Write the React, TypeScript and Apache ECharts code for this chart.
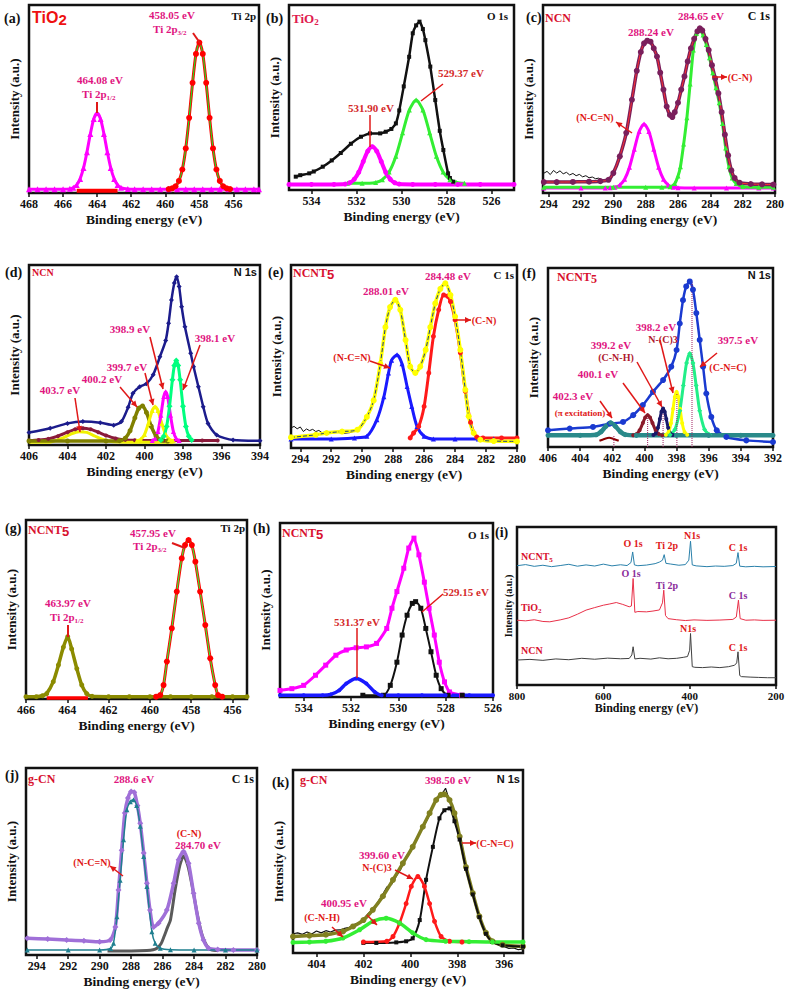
import React, { useEffect, useRef } from 'react';
import * as echarts from 'echarts';

// ---------- (a) Ti 2p, TiO2 ----------
const aTicks = [468, 466, 464, 462, 460, 458, 456];
const aMagX = [468, 467.5, 467, 466.5, 466, 465.6, 465.4, 465.2, 465.0, 464.8, 464.6, 464.4, 464.2, 464.0, 463.8, 463.6, 463.4, 463.2, 463.0, 462.8, 462.6, 462.2, 461.8, 461.3, 460.8, 460.3, 459.8, 459.3, 458.8, 458.3, 457.8, 457.3, 456.8, 456.3, 455.8, 455.3, 454.8, 454.5];
const aMagY = [2, 2, 2, 2, 2, 2.2, 2.8, 4.3, 7.5, 13.3, 21.7, 31.4, 39.4, 42.5, 39.4, 31.4, 21.7, 13.3, 7.5, 4.3, 2.8, 2.1, 2, 2, 2, 2, 2, 2, 2, 2, 2, 2, 2, 2, 2, 2, 2, 2];
const aRedBaseX = [465.2, 464.6, 464.0, 463.4, 462.8];
const aRedBaseY = [1.2, 1.2, 1.2, 1.2, 1.2];
const aRedX = [459.8, 459.6, 459.4, 459.2, 459.0, 458.8, 458.6, 458.4, 458.2, 458.0, 457.8, 457.6, 457.4, 457.2, 457.0, 456.8, 456.6, 456.4, 456.2];
const aRedY = [2.1, 2.5, 3.6, 6.4, 12.5, 23.7, 40, 58.6, 74, 80, 74, 58.6, 40, 23.7, 12.5, 6.4, 3.6, 2.5, 2.1];

// ---------- (b) O 1s, TiO2 ----------
const bTicks = [534, 532, 530, 528, 526];
const bBlackX = [534.7, 534.5, 534.1, 533.9, 533.5, 533.1, 532.7, 532.25, 531.8, 531.4, 530.95, 530.7, 530.45, 530.25, 530.1, 529.9, 529.66, 529.5, 529.35, 529.2, 529.05, 528.94, 528.72, 528.5, 528.3, 528.14, 527.93, 527.85, 527.7];
const bBlackY = [7.2, 8, 9, 10, 12.6, 16, 20, 25, 28.8, 30.6, 30.6, 31.5, 33, 36, 43, 56, 72, 84.7, 89, 91, 87, 81, 66.7, 48.6, 32, 21.6, 9, 6.5, 4.5];
const bGreenX = [532.4, 531.75, 531.15, 530.85, 530.55, 530.25, 529.95, 529.65, 529.35, 529.05, 528.75, 528.45, 528.15, 527.85, 527.55, 527.2];
const bGreenY = [3.6, 3.6, 4.1, 5.6, 9.7, 18.2, 30.9, 43.3, 48.6, 43.3, 30.9, 18.2, 9.7, 5.6, 4.1, 3.6];
const bMagX = [535, 534, 533, 532.5, 532.3, 532.1, 531.9, 531.7, 531.5, 531.3, 531.1, 530.9, 530.7, 530.5, 530.3, 530.1, 529.5, 528.5, 527.5, 526.5, 525];
const bMagY = [3, 3, 3, 3.2, 3.9, 5.8, 9.6, 15.4, 21, 23.4, 21, 15.4, 9.6, 5.8, 3.9, 3.2, 3, 3, 3, 3, 3];

// ---------- (c) C 1s, NCN ----------
const cTicks = [294, 292, 290, 288, 286, 284, 282, 280];
const cNoiseX = [294.3, 294.1, 293.9, 293.7, 293.5, 293.3, 293.1, 292.9, 292.7, 292.5, 292.3, 292.1, 291.9, 291.7, 291.5, 291.3, 291.1, 290.9, 290.7, 290.5];
const cNoiseY = [10.5, 11.5, 9.8, 12, 10.6, 11.8, 10.2, 11, 9.6, 10.4, 9.2, 9.9, 8.6, 9.2, 8.1, 8.5, 7.6, 7.9, 7.1, 6.8];
const cEnvX = [294.3, 293.5, 292.5, 291.5, 290.8, 290.3, 290.0, 289.6, 289.2, 288.85, 288.55, 288.3, 288.1, 287.9, 287.7, 287.5, 287.3, 287.1, 286.9, 286.7, 286.5, 286.35, 286.2, 286.0, 285.8, 285.6, 285.4, 285.2, 285.0, 284.8, 284.65, 284.5, 284.3, 284.1, 283.9, 283.7, 283.5, 283.3, 283.1, 282.9, 282.7, 282.5, 282.2, 281.5, 280.8, 280.1];
const cEnvY = [5.8, 5.8, 5.9, 6, 6.3, 7, 10.6, 19.5, 32, 49.6, 65, 75, 79.6, 81, 80.5, 77, 72.6, 64, 55, 46, 41.5, 40.4, 43, 48, 55, 62, 70, 77, 82, 86, 87.6, 86.5, 82, 76, 68, 61, 53, 43, 31, 20, 12, 8, 5.5, 4.8, 4.6, 4.5];
const cMagX = [294.3, 292, 290.5, 290.2, 289.9, 289.6, 289.3, 289.0, 288.7, 288.4, 288.1, 287.8, 287.5, 287.2, 286.9, 286.6, 286.3, 286.0, 285, 283, 281, 280.1];
const cMagY = [2.7, 2.7, 2.7, 2.8, 3.1, 4.2, 7.3, 13.7, 23.3, 32.7, 36.7, 32.7, 23.3, 13.7, 7.3, 4.2, 3.1, 2.8, 2.7, 2.7, 2.7, 2.7];
const cGreenX = [294.3, 290, 288, 287, 286.5, 286.2, 286.0, 285.85, 285.65, 285.45, 285.25, 285.05, 284.85, 284.65, 284.45, 284.25, 284.05, 283.85, 283.65, 283.45, 283.25, 283.05, 282.85, 282.65, 282.4, 282.0, 281, 280.1];
const cGreenY = [3, 3, 3, 3.1, 3.3, 5, 9, 14, 26, 40, 58, 76, 85, 86.7, 84, 79, 72, 64, 56, 48, 37, 24, 14, 8, 5, 3.5, 3, 3];

// ---------- (d) N 1s, NCN ----------
const dTicks = [406, 404, 402, 400, 398, 396, 394];
const dEnvX = [406, 404.9, 404.0, 403.2, 402.3, 401.6, 401.2, 400.85, 400.6, 400.25, 399.9, 399.55, 399.2, 398.9, 398.75, 398.6, 398.45, 398.33, 398.2, 398.07, 397.9, 397.6, 397.45, 397.2, 396.95, 396.7, 396.25, 395.4, 394];
const dEnvY = [6.9, 9.3, 12, 13, 12.4, 11, 13, 21, 28.7, 32.4, 34, 39, 49, 58, 67.6, 80.5, 90, 93.5, 88, 76.8, 65.7, 51, 43.5, 32.4, 21.3, 12, 5.6, 2.8, 2.4];
const dMarX = [406, 405.5, 405, 404.5, 404, 403.6, 403.2, 402.8, 402.4, 402, 401.5, 401, 400.5, 399, 397, 396.2];
const dMarY = [2.5, 2.8, 3.4, 4.9, 7.1, 8.7, 9.3, 8.7, 7.1, 5.3, 3.6, 2.85, 2.6, 2.5, 2.5, 2.5];
const dYel1X = [406, 405, 404.6, 404.2, 403.8, 403.4, 403.0, 402.6, 402.2, 401.8, 401.4, 400, 398.5];
const dYel1Y = [1.5, 1.5, 2.6, 4.1, 6.2, 7.4, 7, 5.1, 3.2, 2.1, 1.65, 1.5, 1.5];
const dOliveX = [406, 404, 402, 401.3, 401.0, 400.75, 400.5, 400.3, 400.1, 399.9, 399.65, 399.4, 399.1, 398.8];
const dOliveY = [2.2, 2.2, 2.2, 2.4, 3.8, 7.9, 15.1, 20.4, 21.7, 18.1, 10.4, 5.0, 2.6, 2.2];
const dYel2X = [400.4, 400.2, 400.0, 399.8, 399.6, 399.45, 399.3, 399.1, 398.9, 398.7, 398.5];
const dYel2Y = [2.4, 3.1, 5.8, 11.9, 19.1, 21.3, 19.1, 11.9, 5.8, 3.1, 2.4];
const dMagX = [399.6, 399.45, 399.3, 399.15, 399.0, 398.9, 398.8, 398.65, 398.5, 398.35, 398.2];
const dMagY = [2.5, 3.5, 7.5, 16.5, 26.9, 29.6, 26.9, 16.5, 7.5, 3.5, 2.5];
const dGreenX = [399.15, 399.0, 398.85, 398.7, 398.55, 398.45, 398.35, 398.25, 398.15, 398.0, 397.85, 397.7, 397.55];
const dGreenY = [2.8, 4.8, 10.3, 21.5, 36.3, 44.1, 47, 44.1, 36.3, 21.5, 10.3, 4.8, 2.8];

// ---------- (e) C 1s, NCNT5 ----------
const eTicks = [294, 292, 290, 288, 286, 284, 282, 280];
const eNoiseX = [294.6, 294.4, 294.2, 294.0, 293.8, 293.6, 293.4, 293.2, 293.0, 292.8, 292.6, 292.3, 292.0, 291.6, 291.2, 290.8, 290.4, 290.1];
const eNoiseY = [11, 11.8, 10.5, 11.5, 9, 10.4, 9.5, 10.2, 9, 9.6, 8.4, 8.8, 8.2, 8.6, 8, 8.4, 9.5, 12];
const eEnvX = [294.6, 293, 292.3, 291.3, 290.3, 289.7, 289.26, 288.83, 288.5, 288.2, 287.86, 287.54, 287.2, 286.9, 286.57, 286.25, 285.9, 285.6, 285.28, 284.95, 284.63, 284.3, 284.0, 283.66, 283.34, 283.12, 282.8, 282.37, 281.5, 280];
const eEnvY = [5.8, 7.2, 8.2, 9, 10, 17, 26, 46, 66, 77, 81, 75.5, 59, 44.5, 41, 44.5, 53.6, 66, 79, 87, 90, 83.6, 71.8, 53.6, 31.8, 17.3, 8.2, 4.5, 3.8, 3.6];
const eBlueX = [294.6, 292, 290.5, 289.7, 289.05, 288.6, 288.3, 288.1, 287.75, 287.43, 287.1, 286.8, 286.46, 286.0, 285.4, 284, 282.5, 281.5];
const eBlueY = [4.9, 4.9, 5.5, 6.4, 15.5, 28, 41, 48, 51, 46, 33.6, 22.7, 11.8, 6.4, 4.9, 4.9, 4.9, 4.9];
const eRedX = [286.9, 286.68, 286.35, 286.0, 285.7, 285.4, 285.06, 284.74, 284.5, 284.3, 284.0, 283.66, 283.34, 283.0, 282.6, 282.2, 281, 280];
const eRedY = [5.5, 8.2, 11.8, 22.7, 41, 61, 75.5, 83.6, 83, 80, 70, 52, 31, 14, 6, 5.5, 5.5, 5.5];

// ---------- (f) N 1s, NCNT5 ----------
const fTicks = [406, 404, 402, 400, 398, 396, 394, 392];
const fEnvX = [406, 404.65, 403.2, 402.16, 401.33, 400.7, 400.1, 399.47, 398.84, 398.33, 398.0, 397.8, 397.6, 397.4, 397.18, 396.98, 396.77, 396.56, 396.35, 396.15, 395.84, 395.5, 394.9, 393.66, 392];
const fEnvY = [9.3, 10.3, 11.2, 13, 14, 17.8, 23.4, 30.8, 37.4, 44.9, 54.2, 69, 82, 89.7, 92.5, 87.9, 74.8, 59.8, 44.9, 29.9, 16.8, 9.3, 5.6, 3.7, 2.8];
const fTealX = [406, 404, 403, 402.7, 402.4, 402.1, 401.8, 401.5, 401.2, 400.5, 398, 396, 394, 392];
const fTealY = [6.5, 6.5, 6.8, 8.5, 11.5, 13.5, 11.5, 8.5, 6.9, 6.5, 6.5, 6.5, 6.5, 6.5];
const fDrX = [402.8, 402.5, 402.2, 401.9, 401.6];
const fDrY = [3.5, 4.5, 5.2, 4.5, 3.5];
const fMarX = [400.7, 400.5, 400.3, 400.1, 399.95, 399.8, 399.65, 399.5, 399.3, 399.1, 398.9];
const fMarY = [6.6, 7.2, 9.3, 13.4, 16.5, 17.8, 16.5, 13.4, 9.3, 7.2, 6.6];
const fNavX = [399.44, 399.3, 399.16, 399.04, 398.94, 398.84, 398.74, 398.64, 398.52, 398.38, 398.24];
const fNavY = [6.7, 7.6, 10.7, 15.6, 19.7, 21.5, 19.7, 15.6, 10.7, 7.6, 6.7];
const fYelX = [398.66, 398.5, 398.35, 398.22, 398.11, 398.0, 397.89, 397.78, 397.65, 397.5, 397.34];
const fYelY = [6.8, 8.3, 13.3, 21.3, 27.9, 30.8, 27.9, 21.3, 13.3, 8.3, 6.8];
const fGreenX = [398.4, 398.1, 397.8, 397.58, 397.38, 397.18, 396.98, 396.78, 396.56, 396.26, 395.96];
const fGreenY = [6.9, 9.8, 20.2, 34.3, 46.9, 52.3, 46.9, 34.3, 20.2, 9.8, 6.9];
const fPeakPos = [401.9, 399.8, 398.84, 397.98, 397.04];
const fPeakTop = [6.5, 17.8, 21.5, 30.8, 92.5];

// ---------- (g) Ti 2p, NCNT5 ----------
const gTicks = [466, 464, 462, 460, 458, 456];
const gOliveX = [466, 465.5, 465.2, 465.0, 464.68, 464.43, 464.19, 463.98, 463.79, 463.54, 463.3, 463.06, 462.8, 462, 461, 460, 459, 458, 457, 456, 455.3];
const gOliveY = [1.3, 1.3, 1.8, 3, 9.7, 19, 29, 34.8, 28, 17, 7.8, 3, 1.5, 1.3, 1.3, 1.3, 1.3, 1.3, 1.3, 1.3, 1.3];
const gRedBaseX = [465.0, 464.5, 464.0, 463.5, 463.0];
const gRedBaseY = [0.6, 0.6, 0.6, 0.6, 0.6];
const gRedX = [459.7, 459.5, 459.34, 459.18, 458.94, 458.7, 458.46, 458.3, 458.13, 457.97, 457.8, 457.57, 457.32, 457.08, 456.84, 456.7, 456.5];
const gRedY = [1.3, 2.2, 7.8, 20.9, 39.5, 60, 78.6, 86, 88.8, 86, 76.7, 60, 41.3, 22.7, 7.8, 2.2, 1.3];

// ---------- (h) O 1s, NCNT5 ----------
const hTicks = [534, 532, 530, 528, 526];
const hMagX = [535, 534.5, 534, 533.5, 533.07, 532.64, 532.2, 531.78, 531.35, 530.92, 530.49, 530.27, 530.06, 529.77, 529.56, 529.34, 529.13, 528.9, 528.7, 528.48, 528.27, 528.05, 527.84, 527.33];
const hMagY = [3.8, 4.8, 6.7, 12.5, 18.3, 24, 27, 28.3, 28.8, 30.8, 39.4, 51, 60.6, 74, 85.6, 91.3, 81.7, 66, 51, 35.6, 20, 8.7, 2.9, 1];
const hBlackX = [531.5, 530.63, 530.34, 530.06, 529.84, 529.63, 529.41, 529.27, 529.05, 528.84, 528.62, 528.4, 528.19, 527.9, 527.3];
const hBlackY = [1, 1, 6.7, 20, 35.6, 47, 53.8, 54.8, 51, 39.4, 26, 12.5, 4.8, 1, 1];
const hBlueX = [535, 534, 533.2, 532.85, 532.5, 532.2, 531.78, 531.35, 531.0, 530.7, 530, 529, 528, 527, 526];
const hBlueY = [1, 1, 1, 1.5, 3.8, 7.7, 10.6, 7.7, 2.9, 1, 1, 1, 1, 1, 1];

// ---------- (i) survey ----------
const iTicks = [800, 600, 400, 200];
const iNctX = [800, 780, 760, 740, 720, 700, 680, 660, 640, 620, 600, 580, 560, 545, 536, 532, 528, 520, 500, 480, 470, 463, 459, 455, 445, 425, 410, 402, 398, 394, 385, 360, 340, 320, 300, 292, 288, 284, 270, 250, 230, 200];
const iNctY = [75.5, 76.2, 75.1, 75.8, 74.9, 75.6, 76.4, 75.2, 76, 75.3, 76.5, 75.4, 76.1, 75.6, 77.5, 84.2, 76, 75.5, 75.9, 76.8, 77.8, 79, 82.5, 77, 76.6, 75.8, 76.2, 79, 91, 76, 75.4, 74.9, 75.3, 75.1, 75.6, 77, 83.8, 75.2, 74.8, 75.1, 74.8, 75];
const iTioX = [800, 780, 760, 740, 724, 700, 680, 660, 640, 620, 600, 585, 570, 555, 540, 535, 531, 527, 520, 500, 485, 470, 463, 460, 456, 450, 430, 410, 390, 360, 330, 300, 292, 287, 283, 270, 250, 230, 200];
const iTioY = [41, 40.6, 41.3, 40.2, 40, 41.2, 42.5, 44.8, 47.4, 49, 50.5, 51.3, 52.2, 51, 49.5, 50, 67.4, 46, 46.5, 46.3, 46.8, 47.5, 52, 60, 44, 42, 41.3, 40.8, 41.2, 40.9, 41.1, 41.5, 43, 53.7, 42, 41, 41.2, 40.9, 41];
const iNcnX = [800, 770, 740, 710, 680, 650, 620, 590, 560, 540, 534, 531, 527, 515, 490, 470, 450, 430, 415, 405, 400, 398, 394, 388, 370, 350, 330, 310, 296, 291, 288, 284, 280, 260, 240, 220, 200];
const iNcnY = [15.8, 16.2, 15.6, 16.5, 16, 16.9, 16.3, 17, 16.6, 16.8, 19, 24.2, 16.5, 16.9, 16.4, 17.2, 16.6, 16.9, 17.5, 18, 22, 32.6, 11.6, 11.2, 11, 11.4, 11, 11.6, 12.5, 14, 21, 6, 5.3, 5, 4.8, 4.6, 4.6];

// ---------- (j) C 1s, g-CN ----------
const jTicks = [294, 292, 290, 288, 286, 284, 282, 280];
const jEnvX = [294.6, 293.3, 292.1, 291, 290, 289.33, 289.0, 288.8, 288.6, 288.4, 288.2, 288.0, 287.8, 287.6, 287.42, 287.2, 287.0, 286.8, 286.57, 286.26, 285.73, 285.3, 284.98, 284.67, 284.35, 284.03, 283.7, 283.4, 283.07, 282.5, 281.5, 280];
const jEnvY = [8.9, 8.5, 8, 7.6, 7.1, 8, 15, 34.8, 56, 75.9, 84, 87.5, 87, 80, 70.5, 54.5, 38.4, 24, 15, 17, 24, 38.4, 51, 55.4, 49, 33, 17, 8, 3.6, 2.9, 2.7, 2.7];
const jTealX = [294.6, 292, 290, 289.3, 289.12, 288.9, 288.7, 288.48, 288.27, 288.05, 287.85, 287.65, 287.42, 287.2, 287.0, 286.68, 286.47, 286.15, 285.5, 284, 282, 280];
const jTealY = [2.7, 2.7, 2.7, 3.5, 6.3, 20.5, 40, 61.6, 77.7, 82, 83, 80, 68.8, 52.7, 36.6, 12.5, 6.3, 3.6, 2.8, 2.7, 2.7, 2.7];
const jGrayX = [289.5, 288, 287, 286.6, 286.36, 286.1, 285.9, 285.7, 285.5, 285.2, 284.9, 284.67, 284.4, 284.1, 283.8, 283.5, 283.2, 282.9, 282.5];
const jGrayY = [2.2, 2.2, 2.4, 2.8, 3.6, 6, 10, 14.5, 18.75, 35, 48, 53, 48, 36, 22, 11, 5, 2.8, 2.4];

// ---------- (k) N 1s, g-CN ----------
const kTicks = [404, 402, 400, 398, 396];
const kEnvX = [405, 404.3, 403.6, 402.87, 402.44, 402.0, 401.6, 401.17, 400.74, 400.32, 399.9, 399.47, 399.18, 398.9, 398.7, 398.55, 398.33, 398.12, 397.9, 397.63, 397.34, 397.06, 396.78, 396.5, 396.07, 395.2];
const kEnvY = [9, 9.5, 10, 11.8, 14.5, 18, 23.6, 31, 40, 49, 58, 69, 76.4, 83.6, 86.4, 86.7, 83.6, 76.4, 63.6, 47, 32.7, 20, 11, 6.4, 4.5, 3.6];
const kRawX = [405, 404.8, 404.6, 404.4, 404.2, 404.0, 403.8, 403.6, 403.4, 403.2, 403.0, 402.8, 402.6, 402.4, 402.2, 402.0, 401.8, 401.6, 401.4, 401.2, 401.0, 400.8, 400.6, 400.4, 400.2, 400.0, 399.8, 399.6, 399.4, 399.2, 399.0, 398.8, 398.6, 398.5, 398.4, 398.2, 398.0, 397.8, 397.6, 397.4, 397.2, 397.0, 396.8, 396.6, 396.4, 396.2, 396.0, 395.8, 395.6, 395.4, 395.2];
const kRawY = [10.5, 11, 10.2, 11.5, 10.4, 12, 11, 12.2, 11.5, 12.5, 12.6, 13.5, 14, 15.5, 16.5, 18.5, 21.5, 24, 27.5, 31.5, 36, 37.5, 42, 46, 52, 56, 60, 66, 70, 75, 81, 85, 88, 90, 86, 79, 70, 59, 46, 35, 25, 17.5, 11.5, 7.5, 5.5, 4, 3.5, 2.5, 2.8, 1.8, 2.2];
const kBlackX = [402, 401.45, 400.6, 400.18, 399.9, 399.6, 399.33, 399.04, 398.76, 398.55, 398.33, 398.12, 397.9, 397.63, 397.34, 397.06, 396.78, 396.5, 396.07, 395.2];
const kBlackY = [5.5, 5.5, 5.8, 6.4, 8, 18, 40, 58, 73.6, 78, 79, 72, 62, 46, 32, 19.6, 10.5, 6, 4.2, 3.5];
const kRedX = [402, 401.0, 400.74, 400.46, 400.18, 399.96, 399.68, 399.4, 399.18, 398.97, 398.69, 398.33, 397.8];
const kRedY = [6, 6.4, 9, 16.4, 27, 36.4, 41.8, 36.4, 27, 17.3, 9, 6.4, 6];
const kGreenX = [405, 404.3, 403.6, 402.87, 402.16, 401.6, 401.03, 400.46, 399.9, 399.33, 398.5, 397.5, 396.5, 395.2];
const kGreenY = [5.8, 6, 6.4, 8.2, 12.7, 17.3, 19, 16.4, 11, 7.3, 6.4, 6.2, 6, 6];

// ---------- layout & styles ----------
const SERIF = '"Liberation Serif", "DejaVu Serif", serif';
const SANS = '"Liberation Sans", Arial, sans-serif';
const MAG = '#e0157f';
const RED = '#e01818';
const CRIM = '#d8102e';

const LAYOUT = [
  { l: 29, t: 5, w: 230, h: 188, min: 454.5, max: 468, ticks: aTicks },
  { l: 289, t: 5, w: 225, h: 185, min: 525, max: 535, ticks: bTicks },
  { l: 543, t: 5, w: 232, h: 188, min: 280, max: 294.35, ticks: cTicks },
  { l: 29, t: 265, w: 231, h: 180, min: 394, max: 406, ticks: dTicks },
  { l: 291, t: 265, w: 226, h: 183, min: 280, max: 294.6, ticks: eTicks },
  { l: 548, t: 268, w: 225, h: 179, min: 392, max: 406, ticks: fTicks },
  { l: 26, t: 520, w: 221, h: 179, min: 455.3, max: 466, ticks: gTicks },
  { l: 280, t: 523, w: 213, h: 174, min: 526, max: 535, ticks: hTicks },
  { l: 517, t: 527, w: 259, h: 158, min: 200, max: 800, ticks: iTicks, small: true },
  { l: 26, t: 768, w: 231, h: 187, min: 280, max: 294.68, ticks: jTicks },
  { l: 293, t: 770, w: 230, h: 183, min: 395.2, max: 405, ticks: kTicks },
];

function S(g: number, xs: number[], ys: number[], color: string, o: any = {}) {
  return {
    type: 'line',
    xAxisIndex: g,
    yAxisIndex: g,
    data: xs.map((x, i) => [x, ys[i]]),
    symbol: o.symbol || 'none',
    showSymbol: !!o.symbol,
    symbolSize: o.size ?? 5,
    smooth: o.smooth ?? 0.25,
    lineStyle: { color, width: o.width ?? 2, type: o.dash || 'solid' },
    itemStyle: { color },
    silent: true,
    z: 2,
  };
}

function buildSeries() {
  const s: any[] = [];
  // (a)
  s.push(S(0, aMagX, aMagY, '#ff00ff', { symbol: 'triangle', size: 6, width: 3 }));
  s.push(S(0, aRedBaseX, aRedBaseY, '#ff0000', { width: 4 }));
  s.push(S(0, aRedX, aRedY, '#ff0000', { symbol: 'circle', size: 6, width: 3 }));
  s.push(S(0, aRedX, aRedY, '#22dd22', { width: 1.2 }));
  // (b)
  s.push(S(1, bBlackX, bBlackY, '#111111', { symbol: 'rect', size: 4, width: 2.5, smooth: 0.15 }));
  s.push(S(1, bGreenX, bGreenY, '#33ee33', { symbol: 'triangle', size: 5, width: 3 }));
  s.push(S(1, bMagX, bMagY, '#ff00ff', { symbol: 'circle', size: 5, width: 4 }));
  // (c)
  s.push(S(2, cNoiseX, cNoiseY, '#111111', { width: 1, smooth: false }));
  s.push(S(2, cMagX, cMagY, '#ff00ff', { symbol: 'triangle', size: 5, width: 3 }));
  s.push(S(2, cGreenX, cGreenY, '#33ee33', { symbol: 'triangle', size: 5, width: 3 }));
  s.push(S(2, cEnvX, cEnvY, '#7a1f5c', { symbol: 'circle', size: 6, width: 3.5 }));
  s.push(S(2, cEnvX, cEnvY, '#ff3030', { width: 1 }));
  // (d)
  s.push(S(3, dEnvX, dEnvY, '#1c1c8c', { symbol: 'diamond', size: 5, width: 2.5 }));
  s.push(S(3, dMarX, dMarY, '#8b1a3a', { symbol: 'circle', size: 4, width: 3 }));
  s.push(S(3, dYel1X, dYel1Y, '#f0f000', { width: 3 }));
  s.push(S(3, dOliveX, dOliveY, '#808000', { symbol: 'circle', size: 5, width: 3.5 }));
  s.push(S(3, dYel2X, dYel2Y, '#f5f500', { symbol: 'triangle', size: 5, width: 3 }));
  s.push(S(3, dMagX, dMagY, '#ff00ff', { symbol: 'triangle', size: 5, width: 3 }));
  s.push(S(3, dGreenX, dGreenY, '#00ff7f', { symbol: 'diamond', size: 6, width: 3 }));
  // (e)
  s.push(S(4, eNoiseX, eNoiseY, '#111111', { width: 1, smooth: false }));
  s.push(S(4, eBlueX, eBlueY, '#1a1aff', { symbol: 'triangle', size: 5, width: 3 }));
  s.push(S(4, eRedX, eRedY, '#ff1a1a', { symbol: 'circle', size: 5, width: 3 }));
  s.push(S(4, eEnvX, eEnvY, '#ffff00', { symbol: 'circle', size: 6, width: 3.5 }));
  s.push(S(4, eEnvX, eEnvY, '#1f3f7f', { width: 1, dash: 'dashed' }));
  // (f)
  s.push(S(5, fEnvX, fEnvY, '#1a3ad0', { symbol: 'circle', size: 6, width: 2.5 }));
  s.push(S(5, fMarX, fMarY, '#8b1a2a', { symbol: 'circle', size: 4, width: 3 }));
  s.push(S(5, fNavX, fNavY, '#1a1a6a', { symbol: 'circle', size: 4, width: 3 }));
  s.push(S(5, fYelX, fYelY, '#ffff00', { symbol: 'circle', size: 4, width: 3 }));
  s.push(S(5, fGreenX, fGreenY, '#22ee88', { symbol: 'diamond', size: 5, width: 3 }));
  s.push(S(5, fTealX, fTealY, '#2a8a8a', { symbol: 'circle', size: 5, width: 4.5 }));
  s.push(S(5, fDrX, fDrY, '#8b0000', { width: 2 }));
  fPeakPos.forEach((p, i) => s.push(S(5, [p, p], [0, fPeakTop[i]], '#a02060', { width: 1, dash: 'dotted', smooth: false })));
  // (g)
  s.push(S(6, gOliveX, gOliveY, '#8b8b00', { symbol: 'circle', size: 5, width: 3.5 }));
  s.push(S(6, gRedBaseX, gRedBaseY, '#ff0000', { width: 3.5 }));
  s.push(S(6, gRedX, gRedY, '#ff0000', { symbol: 'circle', size: 6, width: 3 }));
  s.push(S(6, gRedX, gRedY, '#33ee33', { width: 1.2 }));
  // (h)
  s.push(S(7, hMagX, hMagY, '#ff00ff', { symbol: 'rect', size: 5, width: 3, smooth: 0.15 }));
  s.push(S(7, hBlackX, hBlackY, '#111111', { symbol: 'rect', size: 5, width: 2 }));
  s.push(S(7, hBlueX, hBlueY, '#1a1aff', { symbol: 'circle', size: 4, width: 3.5 }));
  // (i)
  s.push(S(8, iNctX, iNctY, '#2a80aa', { width: 1, smooth: false }));
  s.push(S(8, iTioX, iTioY, '#e83048', { width: 1, smooth: false }));
  s.push(S(8, iNcnX, iNcnY, '#404040', { width: 1, smooth: false }));
  // (j)
  s.push(S(9, jGrayX, jGrayY, '#5a5a5a', { width: 3 }));
  s.push(S(9, jEnvX, jEnvY, '#a070d8', { symbol: 'diamond', size: 6, width: 3.5 }));
  s.push(S(9, jTealX, jTealY, '#1f7f8f', { symbol: 'triangle', size: 5, width: 1.5 }));
  // (k)
  s.push(S(10, kRawX, kRawY, '#111111', { width: 1.2, smooth: false }));
  s.push(S(10, kEnvX, kEnvY, '#808020', { symbol: 'circle', size: 6, width: 3.5 }));
  s.push(S(10, kBlackX, kBlackY, '#111111', { symbol: 'rect', size: 4, width: 2 }));
  s.push(S(10, kRedX, kRedY, '#ff1a1a', { symbol: 'circle', size: 5, width: 2.5 }));
  s.push(S(10, kGreenX, kGreenY, '#33ee33', { symbol: 'circle', size: 5, width: 3.5 }));
  return s;
}

function T(x: number, y: number, text: string, color: string, size: number, align = 'center', family = SERIF, subSize?: number, subFamily?: string) {
  const hasSub = text.indexOf('{s|') >= 0;
  const style: any = {
    text, fill: color, fontSize: size, fontWeight: 'bold', fontFamily: family,
    align, verticalAlign: 'middle', lineHeight: hasSub ? size + 4 : size + 1,
  };
  if (hasSub) {
    style.rich = {
      s: {
        fill: color, fontSize: subSize || Math.round(size * 0.68), fontWeight: 'bold',
        fontFamily: subFamily || family, verticalAlign: 'bottom',
      },
    };
  }
  return { type: 'text', x, y, silent: true, z: 100, style };
}

function L(x1: number, y1: number, x2: number, y2: number, head = false, color = RED, width = 1.5) {
  const els: any[] = [{ type: 'line', silent: true, z: 100, shape: { x1, y1, x2, y2 }, style: { stroke: color, lineWidth: width } }];
  if (head) {
    const dx = x2 - x1, dy = y2 - y1, len = Math.hypot(dx, dy) || 1;
    const ux = dx / len, uy = dy / len;
    const bx = x2 - ux * 6, by = y2 - uy * 6;
    els.push({ type: 'polygon', silent: true, z: 100, shape: { points: [[x2, y2], [bx - uy * 3, by + ux * 3], [bx + uy * 3, by - ux * 3]] }, style: { fill: color } });
  }
  return els;
}

function buildGraphics() {
  const g: any[] = [];
  const K = '#111111';
  // panel letters
  [['(a)', 4, 18], ['(b)', 266, 18], ['(c)', 526, 17], ['(d)', 5, 272], ['(e)', 268, 272], ['(f)', 522, 273],
   ['(g)', 5, 528], ['(h)', 253, 528], ['(i)', 495, 532], ['(j)', 5, 775], ['(k)', 272, 782]].forEach((p: any) =>
    g.push(T(p[1], p[2], p[0], K, 14, 'left')));
  // sample names
  g.push(T(32, 17, 'TiO{s|2}', '#ee1111', 16, 'left', SANS, 15));
  g.push(T(292, 18, 'TiO{s|2}', '#e01a4f', 13, 'left'));
  g.push(T(545, 18, 'NCN', CRIM, 12, 'left'));
  g.push(T(32, 272, 'NCN', CRIM, 10, 'left'));
  g.push(T(293, 273, 'NCNT{s|5}', CRIM, 12, 'left', SERIF, 13, SANS));
  g.push(T(557, 277, 'NCNT{s|5}', CRIM, 12, 'left', SERIF, 12));
  g.push(T(28, 530, 'NCNT{s|5}', CRIM, 12, 'left', SERIF, 13, SANS));
  g.push(T(282, 533, 'NCNT{s|5}', CRIM, 12, 'left', SERIF, 13, SANS));
  g.push(T(28, 779, 'g-CN', CRIM, 12, 'left'));
  g.push(T(300, 780, 'g-CN', CRIM, 12, 'left'));
  // core levels
  g.push(T(256, 16, 'Ti 2p', K, 11, 'right'));
  g.push(T(508, 16, 'O 1s', K, 11, 'right'));
  g.push(T(770, 16, 'C 1s', K, 12, 'right'));
  g.push(T(257, 272, 'N 1s', K, 11, 'right', SANS));
  g.push(T(514, 275, 'C 1s', K, 11, 'right'));
  g.push(T(771, 275, 'N 1s', K, 11, 'right', SANS));
  g.push(T(245, 528, 'Ti 2p', K, 11, 'right'));
  g.push(T(489, 535, 'O 1s', K, 11, 'right'));
  g.push(T(254, 779, 'C 1s', K, 12, 'right'));
  g.push(T(520, 779, 'N 1s', K, 11, 'right', SANS));
  // (a)
  g.push(T(172, 15, '458.05 eV', MAG, 11));
  g.push(T(153, 29, 'Ti 2p{s|3/2}', MAG, 11, 'left'));
  g.push(T(100, 80, '464.08 eV', MAG, 11));
  g.push(T(82, 94, 'Ti 2p{s|1/2}', MAG, 11, 'left'));
  g.push(...L(193, 33, 200, 43, false, RED, 2));
  g.push(...L(97, 102, 97, 113, false, RED, 2));
  // (b)
  g.push(T(371, 108, '531.90 eV', '#d42a2a', 11));
  g.push(T(461, 73, '529.37 eV', '#d42a2a', 11));
  g.push(...L(370, 115, 370, 147, false, RED, 1.5));
  g.push(...L(443, 84, 421, 101, false, RED, 1.5));
  // (c)
  g.push(T(651, 32, '288.24 eV', MAG, 11));
  g.push(T(701, 16, '284.65 eV', MAG, 11));
  g.push(T(740, 77, '(C-N)', RED, 10));
  g.push(T(595, 117, '(N-C=N)', RED, 10));
  g.push(...L(712, 77, 727, 77, true));
  g.push(...L(632, 133, 616, 122, true));
  // (d)
  g.push(T(130, 329, '398.9 eV', MAG, 11));
  g.push(T(215, 338, '398.1 eV', MAG, 11));
  g.push(T(127, 367, '399.7 eV', MAG, 11));
  g.push(T(102, 379, '400.2 eV', MAG, 11));
  g.push(T(60, 390, '403.7 eV', MAG, 11));
  g.push(...L(150, 337, 163, 389, true));
  g.push(...L(200, 345, 183, 390, true));
  g.push(...L(145, 373, 153, 405, true));
  g.push(...L(120, 387, 137, 407, true));
  g.push(...L(75, 398, 80, 432, true));
  // (e)
  g.push(T(386, 291, '288.01 eV', MAG, 11));
  g.push(T(448, 276, '284.48 eV', MAG, 11));
  g.push(T(484, 320, '(C-N)', RED, 10));
  g.push(T(352, 357, '(N-C=N)', RED, 10));
  g.push(...L(453, 320, 471, 320, true));
  g.push(...L(370, 361, 390, 368, true));
  // (f)
  g.push(T(656, 327, '398.2 eV', MAG, 11));
  g.push(T(663, 339, 'N-(C)3', '#b01a30', 10));
  g.push(T(738, 340, '397.5 eV', MAG, 11));
  g.push(T(611, 345, '399.2 eV', MAG, 11));
  g.push(T(616, 357, '(C-N-H)', '#b01a30', 10));
  g.push(T(728, 367, '(C-N=C)', RED, 10));
  g.push(T(598, 374, '400.1 eV', MAG, 11));
  g.push(T(573, 396, '402.3 eV', MAG, 11));
  g.push(T(580, 413, '(π excitation)', RED, 9));
  g.push(...L(660, 340, 673, 393, true));
  g.push(...L(717, 353, 700, 367, true));
  g.push(...L(637, 362, 662, 407, true));
  g.push(...L(623, 383, 645, 413, true));
  g.push(...L(600, 401, 612, 418, true));
  // (g)
  g.push(T(153, 533, '457.95 eV', MAG, 11));
  g.push(T(133, 546, 'Ti 2p{s|3/2}', MAG, 11, 'left'));
  g.push(T(68, 603, '463.97 eV', MAG, 11));
  g.push(T(50, 617, 'Ti 2p{s|1/2}', MAG, 11, 'left'));
  g.push(...L(172, 543, 185, 548, false, RED, 2));
  g.push(...L(68, 625, 68, 637, false, RED, 2));
  // (h)
  g.push(T(466, 592, '529.15 eV', '#d42a2a', 11));
  g.push(T(357, 622, '531.37 eV', '#d42a2a', 11));
  g.push(...L(357, 628, 357, 678, false, RED, 1.5));
  g.push(...L(443, 594, 422, 612, false, RED, 1.5));
  // (i)
  g.push(T(521, 556, 'NCNT{s|5}', CRIM, 10, 'left'));
  g.push(T(521, 607, 'TiO{s|2}', CRIM, 10, 'left'));
  g.push(T(521, 650, 'NCN', CRIM, 10, 'left'));
  const PUR = '#8a2a9a';
  g.push(T(633, 543, 'O 1s', RED, 10));
  g.push(T(667, 545, 'Ti 2p', RED, 10));
  g.push(T(692, 535, 'N1s', RED, 10));
  g.push(T(738, 547, 'C 1s', RED, 10));
  g.push(T(631, 573, 'O 1s', PUR, 10));
  g.push(T(667, 585, 'Ti 2p', PUR, 10));
  g.push(T(738, 595, 'C 1s', PUR, 10));
  g.push(T(688, 628, 'N1s', RED, 10));
  g.push(T(738, 647, 'C 1s', RED, 10));
  // (j)
  g.push(T(134, 779, '288.6 eV', MAG, 11));
  g.push(T(189, 833, '(C-N)', RED, 10));
  g.push(T(198, 845, '284.70 eV', MAG, 11));
  g.push(T(92, 862, '(N-C=N)', RED, 10));
  g.push(...L(123, 876, 110, 866, true));
  // (k)
  g.push(T(448, 780, '398.50 eV', MAG, 11));
  g.push(T(495, 843, '(C-N=C)', RED, 10));
  g.push(T(382, 855, '399.60 eV', MAG, 11));
  g.push(T(377, 867, 'N-(C)3', RED, 10));
  g.push(T(344, 903, '400.95 eV', MAG, 11));
  g.push(T(322, 917, '(C-N-H)', RED, 10));
  g.push(...L(462, 843, 476, 843, true));
  g.push(...L(395, 870, 413, 879, true));
  g.push(...L(367, 915, 377, 925, true));
  g.push(...L(332, 927, 343, 937, true));
  return g;
}

export default function App() {
  const ref = useRef<HTMLDivElement>(null);
  useEffect(() => {
    if (!ref.current) return;
    const chart = echarts.init(ref.current, undefined, { renderer: 'svg' });
    const grid = LAYOUT.map((p) => ({
      left: p.l, top: p.t, width: p.w, height: p.h, show: true,
      borderColor: '#111', borderWidth: 2.5, backgroundColor: 'transparent', containLabel: false,
    }));
    const xAxis = LAYOUT.map((p: any, i) => ({
      gridIndex: i, type: 'value', min: p.min, max: p.max, inverse: true,
      axisLine: { show: false }, splitLine: { show: false },
      axisTick: { show: true, customValues: p.ticks, length: 4, lineStyle: { color: '#111', width: 1.5 } },
      axisLabel: { customValues: p.ticks, color: '#111', fontFamily: SERIF, fontWeight: 'bold', fontSize: p.small ? 11 : 12, margin: 5 },
      name: 'Binding energy (eV)', nameLocation: 'middle', nameGap: p.small ? 16 : 19,
      nameTextStyle: { color: '#111', fontFamily: SERIF, fontWeight: 'bold', fontSize: p.small ? 12 : 13.5 },
    }));
    const yAxis = LAYOUT.map((p: any, i) => ({
      gridIndex: i, type: 'value', min: 0, max: 100,
      axisLine: { show: false }, splitLine: { show: false }, axisTick: { show: false }, axisLabel: { show: false },
      name: 'Intensity (a.u.)', nameLocation: 'middle', nameGap: p.small ? 4 : 8,
      nameTextStyle: { color: '#111', fontFamily: SERIF, fontWeight: 'bold', fontSize: p.small ? 10 : 13 },
    }));
    chart.setOption({
      animation: false,
      backgroundColor: '#ffffff',
      grid, xAxis, yAxis,
      series: buildSeries(),
      graphic: { elements: buildGraphics() },
    });
    return () => chart.dispose();
  }, []);
  return <div ref={ref} style={{ position: 'absolute', left: 0, top: 0, width: 791, height: 992, background: '#fff' }} />;
}
